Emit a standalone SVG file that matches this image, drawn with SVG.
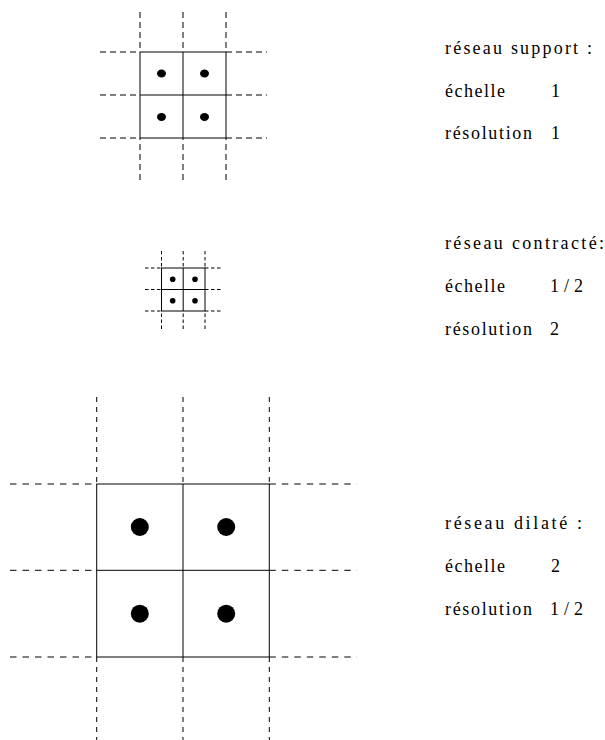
<svg xmlns="http://www.w3.org/2000/svg" width="605" height="740" viewBox="0 0 605 740">
<style>
.bg{fill:#fff}
.solid{stroke:#000;stroke-width:1;fill:none}
.d1{stroke:#000;stroke-width:1;stroke-dasharray:6 4}
.d2{stroke:#000;stroke-width:1;stroke-dasharray:3.5 2.5}
.d3v{stroke:#000;stroke-width:1;stroke-dasharray:5 5}
.d3h{stroke:#000;stroke-width:1;stroke-dasharray:6.5 6}
.dot{fill:#000}
.lbl{fill:#000}
</style>
<rect class="bg" x="0" y="0" width="605" height="740"/>

<g id="grid-support">
  <path class="d1" d="M100 52H140M226 52H267M100 95H140M226 95H267M100 138H140M226 138H267"/>
  <path class="d1" d="M140 12V52M183 12V52M226 12V52"/>
  <path class="d1" d="M140 180V138M183 180V138M226 180V138"/>
  <rect class="solid" x="140" y="52" width="86" height="86"/>
  <line class="solid" x1="140" y1="95" x2="226" y2="95"/>
  <line class="solid" x1="183" y1="52" x2="183" y2="138"/>
  <ellipse class="dot" cx="161.5" cy="73.5" rx="4.5" ry="4"/>
  <ellipse class="dot" cx="204.5" cy="73.5" rx="4.5" ry="4"/>
  <ellipse class="dot" cx="161.5" cy="117" rx="4.5" ry="4"/>
  <ellipse class="dot" cx="204.5" cy="117" rx="4.5" ry="4"/>
</g>

<g id="grid-contracte">
  <path class="d2" d="M145 268H161.5M205 268H222M145 289.5H161.5M205 289.5H222M145 311H161.5M205 311H222"/>
  <path class="d2" d="M161.5 251V268M183.2 251V268M205 251V268"/>
  <path class="d2" d="M161.5 329V311M183.2 329V311M205 329V311"/>
  <rect class="solid" x="161.5" y="268" width="43.5" height="43"/>
  <line class="solid" x1="161.5" y1="289.5" x2="205" y2="289.5"/>
  <line class="solid" x1="183.2" y1="268" x2="183.2" y2="311"/>
  <circle class="dot" cx="172.7" cy="279.3" r="2.8"/>
  <circle class="dot" cx="195" cy="279.3" r="2.8"/>
  <circle class="dot" cx="172.7" cy="300.7" r="2.8"/>
  <circle class="dot" cx="195" cy="300.7" r="2.8"/>
</g>

<g id="grid-dilate">
  <path class="d3h" d="M10 484H96.7M269.3 484H357M10 570.3H96.7M269.3 570.3H357M10 657H96.7M269.3 657H357"/>
  <path class="d3v" d="M96.7 397V484M183 397V484M269.3 397V484"/>
  <path class="d3v" d="M96.7 742V657M183 742V657M269.3 742V657"/>
  <rect class="solid" x="96.7" y="484" width="172.6" height="173"/>
  <line class="solid" x1="96.7" y1="570.3" x2="269.3" y2="570.3"/>
  <line class="solid" x1="183" y1="484" x2="183" y2="657"/>
  <circle class="dot" cx="139.8" cy="527" r="9"/>
  <circle class="dot" cx="226.2" cy="527" r="9"/>
  <circle class="dot" cx="139.8" cy="613.7" r="9"/>
  <circle class="dot" cx="226.2" cy="613.7" r="9"/>
</g>

<g id="labels" font-family="'Liberation Serif', 'DejaVu Serif', serif" font-size="18">
<g id="label-support">
  <text class="lbl" x="445" y="54" textLength="147" lengthAdjust="spacing">réseau support :</text>
  <text class="lbl" x="445" y="97" textLength="60" lengthAdjust="spacing">échelle</text>
  <text class="lbl" x="551" y="97">1</text>
  <text class="lbl" x="445" y="139" textLength="87" lengthAdjust="spacing">résolution</text>
  <text class="lbl" x="551" y="139">1</text>
</g>

<g id="label-contracte">
  <text class="lbl" x="445" y="249" textLength="159" lengthAdjust="spacing">réseau contracté:</text>
  <text class="lbl" x="445" y="292" textLength="60" lengthAdjust="spacing">échelle</text>
  <text class="lbl" x="550" y="292" textLength="33" lengthAdjust="spacing">1/2</text>
  <text class="lbl" x="445" y="335" textLength="87" lengthAdjust="spacing">résolution</text>
  <text class="lbl" x="550" y="335">2</text>
</g>

<g id="label-dilate">
  <text class="lbl" x="445" y="529" textLength="137" lengthAdjust="spacing">réseau dilaté :</text>
  <text class="lbl" x="445" y="572" textLength="60" lengthAdjust="spacing">échelle</text>
  <text class="lbl" x="551" y="572">2</text>
  <text class="lbl" x="445" y="615" textLength="87" lengthAdjust="spacing">résolution</text>
  <text class="lbl" x="550" y="615" textLength="33" lengthAdjust="spacing">1/2</text>
</g>
</g>
</svg>
